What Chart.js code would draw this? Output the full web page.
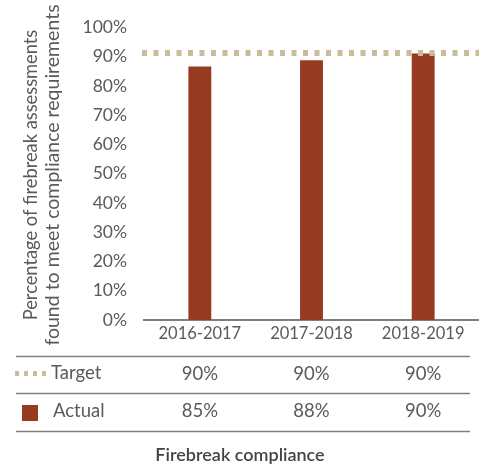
<!DOCTYPE html>
<html><head><meta charset="utf-8">
<script src="https://cdn.jsdelivr.net/npm/chart.js@4.4.0/dist/chart.umd.min.js"></script>
<style>html,body{margin:0;padding:0;background:#fff}#w{width:479px;height:465px;position:relative}</style>
</head><body><div id="w"><canvas id="c" width="479" height="465"></canvas></div>
<script>
// ---- data ----
const categories = ['2016-2017', '2017-2018', '2018-2019'];
const actualPlotted = [86.7, 88.8, 91.1];   // bar heights as drawn in the picture
const targetPlotted = 91.3;                 // dotted target line as drawn
const targetLabels = ['90%', '90%', '90%'];
const actualLabels = ['85%', '88%', '90%'];
const yTickValues = [0, 10, 20, 30, 40, 50, 60, 70, 80, 90, 100];
const yTitleLines = ['Percentage of firebreak assessments', 'found to meet compliance requirements'];
const rowNames = ['Target', 'Actual'];
const chartTitle = 'Firebreak compliance';

const BAR = '#973a22', TAN = '#c8bc9b', TXT = '#5a5a5a', LINE = '#7f7f7f';
const FONT = 'Lato, "Noto Sans", sans-serif';

const extras = {
  id: 'extras',
  afterDatasetsDraw(chart) {
    const {ctx, chartArea, scales} = chart;
    const y = scales.y.getPixelForValue(targetPlotted);
    ctx.save();
    ctx.strokeStyle = TAN; ctx.lineWidth = 6; ctx.setLineDash([5, 6.5]);
    ctx.beginPath(); ctx.moveTo(chartArea.left - 2, y); ctx.lineTo(chartArea.right, y); ctx.stroke();
    ctx.restore();
  },
  afterDraw(chart) {
    const {ctx, scales} = chart;
    const xs = scales.x;
    ctx.save();
    // y title
    ctx.fillStyle = TXT;
    ctx.textAlign = 'center'; ctx.textBaseline = 'middle';
    ctx.translate(0, 175); ctx.rotate(-Math.PI / 2);
    ctx.font = '18.3px ' + FONT;
    ctx.fillText(yTitleLines[0], 0, 31);
    ctx.font = '19.5px ' + FONT;
    ctx.fillText(yTitleLines[1], 0, 53);
    ctx.setTransform(1, 0, 0, 1, 0, 0);
    // table lines
    ctx.strokeStyle = LINE; ctx.lineWidth = 1.5;
    [356.5, 393.5, 431.5].forEach(ly => { ctx.beginPath(); ctx.moveTo(16, ly); ctx.lineTo(470, ly); ctx.stroke(); });
    // legend symbols
    ctx.fillStyle = TAN;
    for (let i = 0; i < 4; i++) ctx.fillRect(15 + i * 9, 371, 4, 5);
    ctx.fillStyle = BAR; ctx.fillRect(22, 405, 16, 16);
    // row names
    ctx.fillStyle = TXT; ctx.font = '18.5px ' + FONT; ctx.textAlign = 'left';
    ctx.fillText(rowNames[0], 51, 373);
    ctx.fillText(rowNames[1], 53, 411);
    ctx.textAlign = 'center';
    categories.forEach((c, i) => {
      const x = xs.getPixelForValue(i);
      ctx.fillText(targetLabels[i], x, 374);
      ctx.fillText(actualLabels[i], x, 411);
    });
    // bottom title
    ctx.fillStyle = '#444'; ctx.font = '600 18px ' + FONT;
    ctx.fillText(chartTitle, 240, 455);
    ctx.restore();
  }
};

new Chart(document.getElementById('c'), {
  type: 'bar',
  data: {
    labels: categories,
    datasets: [{ label: 'Actual', data: actualPlotted, backgroundColor: BAR, barPercentage: 0.205, categoryPercentage: 1 }]
  },
  options: {
    responsive: false, animation: false,
    layout: { padding: { top: 8, right: 0, bottom: 120, left: 0 } },
    plugins: { legend: { display: false }, tooltip: { enabled: false } },
    scales: {
      x: {
        grid: { display: false, drawTicks: false },
        border: { display: true, color: LINE, width: 2 },
        ticks: { color: TXT, font: { family: FONT, size: 16.5 }, padding: 4 },
        afterFit(s) { s.height = 25; }
      },
      y: {
        min: 0, max: 100,
        afterBuildTicks(s) { s.ticks = yTickValues.map(v => ({ value: v })); },
        grid: { display: false, drawTicks: false },
        border: { display: false },
        ticks: { color: TXT, font: { family: FONT, size: 17.5 }, padding: 17, callback: v => v + '%' },
        afterFit(s) { s.width = 144; }
      }
    }
  },
  plugins: [extras]
});
</script></body></html>
